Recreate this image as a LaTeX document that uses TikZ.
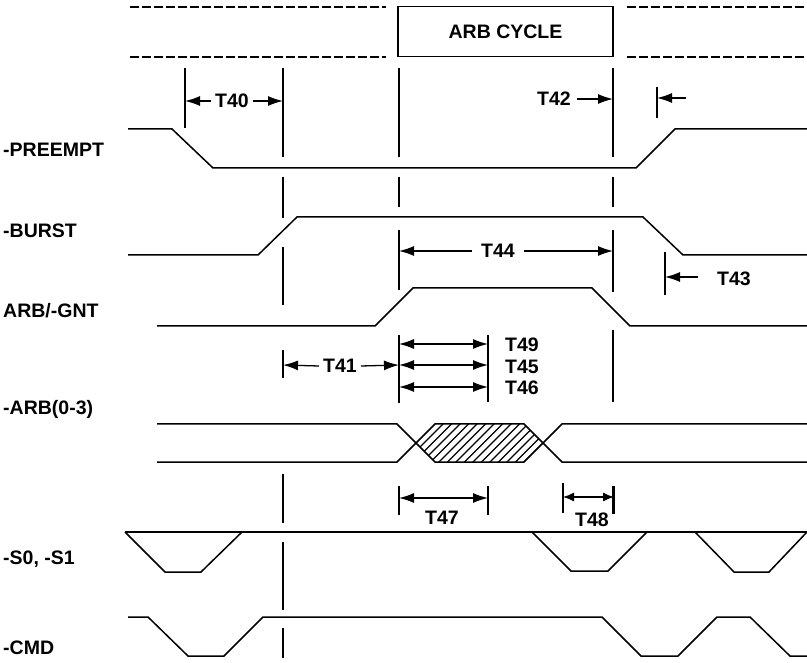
\documentclass[tikz,border=0pt]{standalone}
\usepackage{fontspec}
\setmainfont{Liberation Sans}
\usetikzlibrary{arrows.meta}
\begin{document}
\begin{tikzpicture}[x=1pt,y=-1pt,
  sig/.style={line width=1.5pt,line join=miter},
  guide/.style={line width=1.3pt},
  hatchline/.style={line width=1.4pt},
  topdash/.style={line width=1.1pt,dash pattern=on 9pt off 3pt},
  tip/.style={line width=1.3pt,-{Latex[length=15pt,width=10pt]}},
  dtip/.style={line width=1.3pt,{Latex[length=15pt,width=10pt]}-{Latex[length=15pt,width=10pt]}},
  stip/.style={line width=1.3pt,{Latex[length=11pt,width=9pt]}-{Latex[length=11pt,width=9pt]}},
  lbl/.style={font=\fontsize{19.5}{22}\selectfont\bfseries,inner sep=0pt},
  tlbl/.style={font=\fontsize{19.5}{22}\selectfont\bfseries,inner ysep=0pt,inner xsep=4pt},
]
\useasboundingbox (0,0) rectangle (807,663);

% signal names
\node[lbl,anchor=base west] (npre) at (3,157) {-PREEMPT};
\node[lbl,anchor=base west] (nbur) at (3,238) {-BURST};
\node[lbl,anchor=base west] (ngnt) at (3,318) {ARB/-GNT};
\node[lbl,anchor=base west] (narb) at (3,414) {-ARB(0-3)};
\node[lbl,anchor=base west] (ns01) at (3,564) {-S0, -S1};
\node[lbl,anchor=base west] (ncmd) at (3,654) {-CMD};

% top band
\draw[topdash] (130,7) -- (386,7);
\draw[topdash] (130,57) -- (386,57);
\draw[topdash] (627,7) -- (807,7);
\draw[topdash] (627,57) -- (807,57);
\node[draw,line width=1.2pt,minimum width=215pt,minimum height=50pt,lbl] (arbbox) at (505.5,31.5) {ARB CYCLE};

% waveforms
\draw[sig] (128,129) -- (172,129) -- (213,168) -- (636,168) -- (675,129) -- (807,129);
\draw[sig] (128,255) -- (258,255) -- (297,217) -- (643,217) -- (683,255) -- (807,255);
\draw[sig] (157,326) -- (375,326) -- (413,288) -- (592,288) -- (630,326) -- (807,326);
\begin{scope}
  \clip (416,443) -- (435,424) -- (524,424) -- (543,443) -- (524,462) -- (435,462) -- cycle;
  \foreach \k in {0,...,20}
    \draw[hatchline] ({380+8.5*\k},470) -- ({380+8.5*\k+50},420);
\end{scope}
\draw[sig] (157,424) -- (397,424) -- (435,462) -- (524,462) -- (562,424) -- (807,424);
\draw[sig] (157,462) -- (397,462) -- (435,424) -- (524,424) -- (562,462) -- (807,462);
\draw[sig] (125,532) -- (807,532);
\draw[sig] (125,532) -- (165,572) -- (201,572) -- (242,532);
\draw[sig] (532,532) -- (571,571) -- (608,571) -- (647,532);
\draw[sig] (695,532) -- (734,572) -- (769,572) -- (807,532);
\draw[sig] (128,617) -- (148,617) -- (188,656) -- (224,656) -- (263,617) -- (602,617) -- (641,656) -- (678,656) -- (717,617) -- (750,617) -- (790,656) -- (807,656);

% vertical guides (broken where they cross signals)
\foreach \a/\b in {68/157,177/218,247/305,350/378,474/523,542/610,628/658}
  \draw[guide] (283,\a) -- (283,\b);
\foreach \a/\b in {68/157,177/207,230/290,335/403,486/515}
  \draw[guide] (399,\a) -- (399,\b);
\foreach \a/\b in {68/157,177/207,230/292,330/402,486/514}
  \draw[guide] (613,\a) -- (613,\b);

% T40
\draw[guide] (185,68) -- (185,128);
\coordinate (t40l) at (185,101);
\coordinate (t40r) at (283,101);
\node[tlbl] (t40) at (232,101) {T40};
\draw[tip] (t40.west) -- (t40l);
\draw[tip] (t40.east) -- (t40r);

% T42
\coordinate (t42r) at (613,99);
\node[tlbl] (t42) at (554,99) {T42};
\draw[tip] ([xshift=2pt]t42.east) -- (t42r);
\draw[guide] (657,87) -- (657,118);
\coordinate (t42b) at (657,98);
\coordinate (t42c) at (686,98);
\draw[tip] (t42c) -- (t42b);

% T44
\coordinate (t44l) at (399,251);
\coordinate (t44r) at (613,251);
\node[tlbl,inner xsep=9pt] (t44) at (498,251) {T44};
\draw[tip] (t44.west) -- (t44l);
\draw[tip] (t44.east) -- (t44r);

% T43
\draw[guide] (665,252) -- (665,295);
\coordinate (t43a) at (698,277);
\coordinate (t43b) at (665,277);
\draw[tip] (t43a) -- (t43b);
\node[tlbl] (t43) at (734,279) {T43};

% T41
\coordinate (t41l) at (283,365);
\coordinate (t41r) at (399,365);
\node[tlbl] (t41) at (340,366) {T41};
\draw[tip] (t41.west) -- (t41l);
\draw[tip] (t41.east) -- (t41r);

% T49, T45, T46
\draw[guide] (488,335) -- (488,402);
\coordinate (a49) at (399,344); \coordinate (b49) at (488,344);
\coordinate (a45) at (399,365); \coordinate (b45) at (488,365);
\coordinate (a46) at (399,387); \coordinate (b46) at (488,387);
\draw[dtip] (a49) -- (b49);
\draw[dtip] (a45) -- (b45);
\draw[dtip] (a46) -- (b46);
\node[lbl,anchor=west] (t49) at (505,345) {T49};
\node[lbl,anchor=west] (t45) at (505,367) {T45};
\node[lbl,anchor=west] (t46) at (505,388) {T46};

% T47
\draw[guide] (488,486) -- (488,515);
\coordinate (a47) at (399,498); \coordinate (b47) at (488,498);
\draw[dtip] (a47) -- (b47);
\node[lbl] (t47) at (442,518) {T47};

% T48
\draw[guide] (563,483) -- (563,513);
\draw[guide] (614,486) -- (614,514);
\coordinate (a48) at (563,497); \coordinate (b48) at (614,497);
\draw[stip] (a48) -- (b48);
\node[lbl] (t48) at (592,520) {T48};
\end{tikzpicture}
\end{document}
